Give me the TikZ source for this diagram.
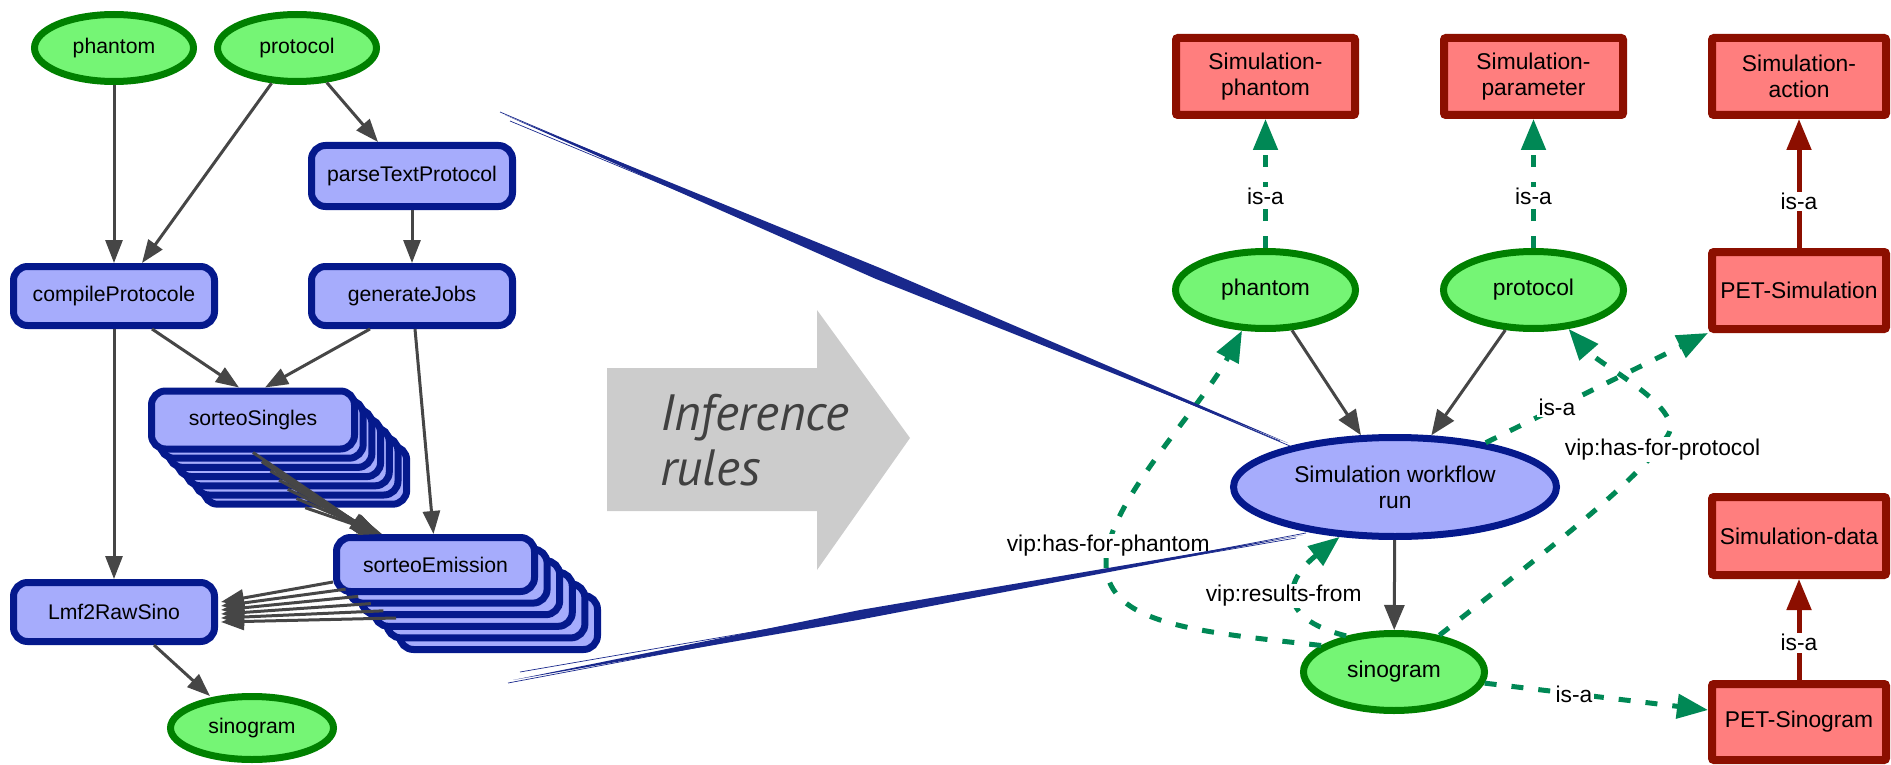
\documentclass[tikz,border=0pt]{standalone}
\usepackage{fontspec}
\setmainfont{Liberation Sans}
\newfontfamily\inferfont{PT Sans}
\usetikzlibrary{arrows.meta,shapes.geometric,calc}
\definecolor{glight}{RGB}{117,245,117}
\definecolor{gdark}{RGB}{0,128,0}
\definecolor{blight}{RGB}{166,172,252}
\definecolor{bdark}{RGB}{5,25,140}
\definecolor{rlight}{RGB}{255,126,126}
\definecolor{rdark}{RGB}{140,15,0}
\definecolor{dgreen}{RGB}{0,136,85}
\definecolor{garrow}{RGB}{70,70,70}
\definecolor{bigarrow}{RGB}{204,204,204}
\definecolor{infertext}{RGB}{64,64,64}
\definecolor{bstroke}{RGB}{25,40,140}
\begin{document}
\begin{tikzpicture}[x=1pt,y=-1pt,
  lfont/.style={font=\fontsize{21.2pt}{24pt}\selectfont},
  rfont/.style={font=\fontsize{22.8pt}{26pt}\selectfont},
  greenell/.style={ellipse, draw=gdark, fill=glight, line width=7pt, inner sep=0pt},
  bluebox/.style={rectangle, rounded corners=14pt, draw=bdark, fill=blight, line width=7pt, inner sep=0pt, lfont},
  blueell/.style={ellipse, draw=bdark, fill=blight, line width=7pt, inner sep=0pt, align=center, rfont},
  redbox/.style={rectangle, rounded corners=2pt, draw=rdark, fill=rlight, line width=8pt, inner sep=0pt, align=center, rfont},
  grayarrowL/.style={draw=garrow, line width=3pt, -{Triangle[length=23pt,width=17pt]}},
  grayarrowR/.style={draw=garrow, line width=3pt, -{Triangle[length=25pt,width=20pt]}},
  isadash/.style={draw=dgreen, line width=5pt, dash pattern=on 12pt off 15pt, -{Triangle[length=31pt,width=24pt]}},
  isared/.style={draw=rdark, line width=5pt, -{Triangle[length=31pt,width=24pt]}},
  lab/.style={fill=white, inner sep=1.5pt, rfont, text=black}
]
\useasboundingbox (0,0) rectangle (1891,765);

% ---------------- left workflow ----------------
\node[greenell, lfont, minimum width=159pt, minimum height=67pt] (phL) at (114,48) {phantom};
\node[greenell, lfont, minimum width=159pt, minimum height=67pt] (prL) at (297,48) {protocol};
\node[bluebox, minimum width=201pt, minimum height=61pt] (parse) at (412,176) {parseTextProtocol};
\node[bluebox, minimum width=201pt, minimum height=59pt] (comp) at (114,296) {compileProtocole};
\node[bluebox, minimum width=201pt, minimum height=59pt] (gen) at (412,296) {generateJobs};
\foreach \k in {6,5,4,3,2,1}
  \node[bluebox, minimum width=203pt, minimum height=58pt] (ss\k) at ({253+8.7*\k},{420+9.2*\k}) {};
\node[bluebox, minimum width=203pt, minimum height=58pt] (ss0) at (253,420) {sorteoSingles};
\foreach \k in {5,4,3,2,1}
  \node[bluebox, minimum width=198pt, minimum height=54pt] (em\k) at ({435.5+12.6*\k},{564.5+11.6*\k}) {};
\node[bluebox, minimum width=198pt, minimum height=54pt] (em0) at (435.5,564.5) {sorteoEmission};
\node[bluebox, minimum width=201pt, minimum height=59pt] (lmf) at (114,612) {Lmf2RawSino};
\node[greenell, lfont, minimum width=163pt, minimum height=63pt] (sinoL) at (252,728) {sinogram};

\draw[grayarrowL] (phL) -- (comp);
\draw[grayarrowL] (prL) -- ($(comp.north)+(28,0)$);
\draw[grayarrowL] (prL) -- ($(parse.north)+(-34,0)$);
\draw[grayarrowL] (parse) -- (gen);
\draw[grayarrowL] ($(comp.south)+(38,0)$) -- ($(ss0.north)+(-14,0)$);
\draw[grayarrowL] ($(gen.south)+(-42,0)$) -- ($(ss0.north)+(12,0)$);
\draw[grayarrowL] ($(gen.south)+(3,0)$) -- ($(em0.north)+(-2,0)$);
\draw[grayarrowL] (comp) -- (lmf);
\foreach \k in {0,...,6}
  \draw[grayarrowL] (ss\k.south) -- ($(em0.north west)+(40+1.5*\k,0)$);
\foreach \k in {0,...,5}
  \draw[grayarrowL] ($(em0.west)+(12.6*\k,17.5+7.2*\k)$) -- ($(lmf.east)+(3,-10+4*\k)$);
\draw[grayarrowL] ($(lmf.south)+(40,0)$) -- ($(sinoL.north)+(-42,3)$);

% ---------------- big arrow ----------------
\fill[bigarrow] (607,368) -- (817,368) -- (817,310) -- (910,438) -- (817,570) -- (817,511) -- (607,511) -- cycle;
\node[anchor=base west, inner sep=0pt, text=infertext, font=\inferfont\itshape\fontsize{51pt}{55pt}\selectfont] (inf1) at (660,430) {Inference};
\node[anchor=base west, inner sep=0pt, text=infertext, font=\inferfont\itshape\fontsize{51pt}{55pt}\selectfont] (inf2) at (660,485) {rules};

% ---------------- right ontology ----------------
\node[redbox, minimum width=179pt, minimum height=77pt] (simph) at (1265.5,76.5) {Simulation-\\phantom};
\node[redbox, minimum width=179pt, minimum height=77pt] (simpar) at (1533.5,76.5) {Simulation-\\parameter};
\node[redbox, minimum width=174pt, minimum height=77pt] (simact) at (1799,76.5) {Simulation-\\action};
\node[redbox, minimum width=174pt, minimum height=77pt] (petsim) at (1799,290.5) {PET-Simulation};
\node[redbox, minimum width=174pt, minimum height=78pt] (simdata) at (1799,536) {Simulation-data};
\node[redbox, minimum width=174pt, minimum height=76pt] (petsino) at (1799,722) {PET-Sinogram};
\node[greenell, rfont, minimum width=180pt, minimum height=77pt] (phR) at (1265.5,290) {phantom};
\node[greenell, rfont, minimum width=180pt, minimum height=77pt] (prR) at (1533.5,290) {protocol};
\node[blueell, minimum width=323pt, minimum height=99pt] (wf) at (1395,487) {Simulation workflow\\run};
\node[greenell, rfont, minimum width=181pt, minimum height=77pt] (sinoR) at (1394,672) {sinogram};

\draw[grayarrowR] (phR) -- (wf);
\draw[grayarrowR] (prR) -- (wf);
\draw[grayarrowR] (wf) -- (sinoR);

\draw[isadash] (phR) -- (simph) node[lab, pos=0.4] {is-a};
\draw[isadash] (prR) -- (simpar) node[lab, pos=0.4] {is-a};
\draw[isared] (petsim) -- (simact) node[lab, pos=0.36] {is-a};
\draw[isared] (petsino) -- (simdata) node[lab, pos=0.37] {is-a};
\draw[isadash] (wf.26) -- (petsim.south west) node[lab, pos=0.32] {is-a};
\draw[isadash] (sinoR.-7) -- ($(petsino.west)+(0,-12)$) node[lab, pos=0.4] {is-a};
\draw[isadash] (sinoR.160) .. controls (1200,632) and (1108,625) .. (1106,565)
   .. controls (1104,505) and (1200,410) .. (phR.240) node[lab, pos=0.1] {vip:has-for-phantom};
\draw[isadash] (sinoR.143) .. controls (1275,618) and (1285,580) .. (wf.222) node[lab, pos=0.5, xshift=-12pt] {vip:results-from};
\draw[isadash] (sinoR.39) .. controls (1540,556) and (1640,480) .. (1668,435) node[lab, pos=0.9, xshift=5pt] {vip:has-for-protocol}
   .. controls (1685,408) and (1600,365) .. (prR.-48);

% ---------------- sketched zoom strokes ----------------
\fill[bstroke] (505,115) -- (880,268) -- (1288,443) -- (876,279) -- cycle;
\draw[bstroke, line width=0.7pt] (500,112) -- (1290,446);
\draw[bstroke, line width=0.7pt] (510,121) -- (1280,441);
\fill[bstroke] (513,680) -- (860,610) -- (1303,535) -- (858,620) -- cycle;
\draw[bstroke, line width=0.7pt] (508,683) -- (1306,533);
\draw[bstroke, line width=0.7pt] (520,672) -- (1296,538);
\end{tikzpicture}
\end{document}
